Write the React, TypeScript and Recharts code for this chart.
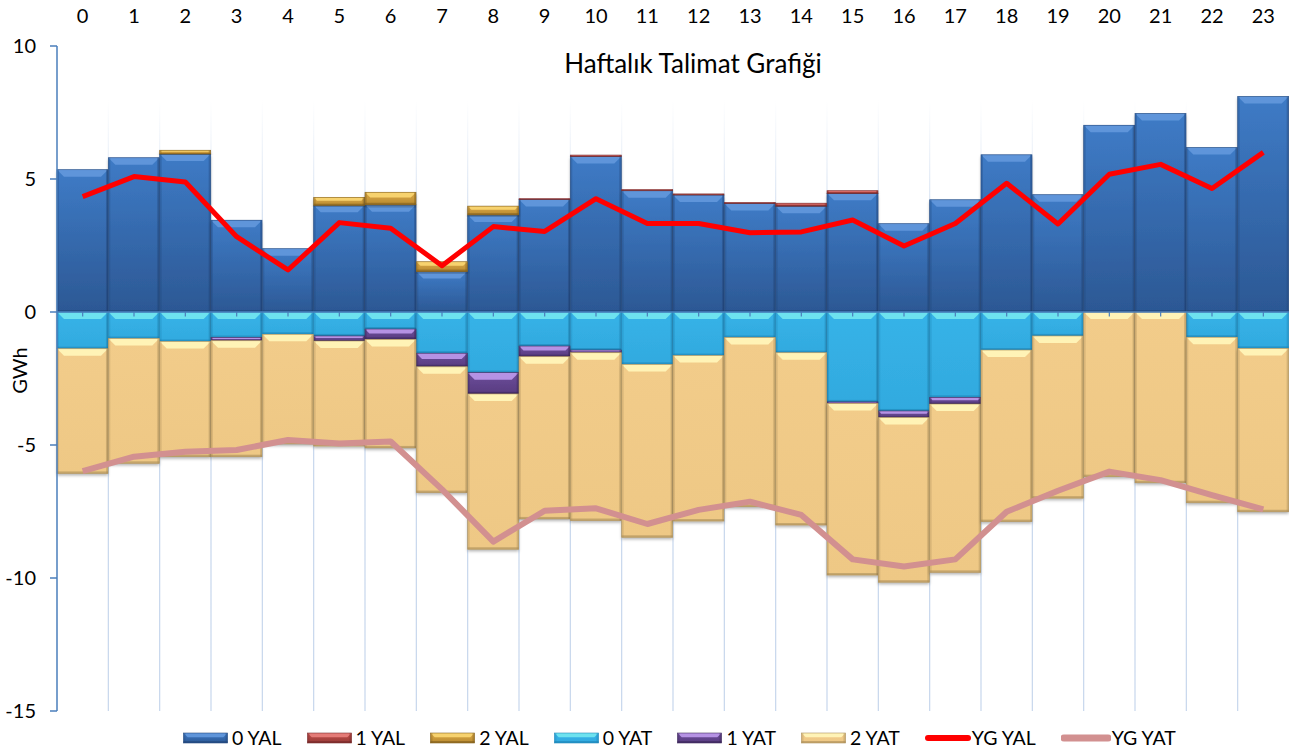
import React from 'react';
import { ComposedChart, Bar, Line, XAxis, YAxis, CartesianGrid, ReferenceLine } from 'recharts';

const hours = ['0', '1', '2', '3', '4', '5', '6', '7', '8', '9', '10', '11', '12', '13', '14', '15', '16', '17', '18', '19', '20', '21', '22', '23'];

const yal0 = [5.35, 5.8, 5.94, 3.45, 2.38, 4.01, 4.03, 1.52, 3.65, 4.23, 5.85, 4.56, 4.4, 4.08, 3.98, 4.46, 3.32, 4.22, 5.91, 4.41, 7.02, 7.46, 6.18, 8.1];
const yal1 = [0, 0, 0, 0, 0, 0, 0, 0, 0, 0.03, 0.05, 0.04, 0.04, 0.04, 0.11, 0.1, 0, 0, 0, 0, 0, 0, 0, 0];
const yal2 = [0, 0, 0.14, 0, 0, 0.3, 0.47, 0.37, 0.33, 0, 0, 0, 0, 0, 0, 0, 0, 0, 0, 0, 0, 0, 0, 0];
const yat0 = [-1.38, -1.0, -1.11, -0.96, -0.84, -0.9, -0.64, -1.55, -2.28, -1.28, -1.43, -1.97, -1.64, -0.96, -1.53, -3.38, -3.72, -3.21, -1.43, -0.9, 0, 0, -0.95, -1.37];
const yat1 = [0, 0, 0, -0.12, 0, -0.19, -0.39, -0.51, -0.8, -0.4, -0.1, 0, 0, 0, 0, -0.06, -0.25, -0.25, 0, 0, 0, 0, 0, 0];
const yat2 = [-4.69, -4.69, -4.33, -4.36, -4.12, -3.95, -4.08, -4.73, -5.84, -6.1, -6.31, -6.5, -6.22, -6.36, -6.48, -6.45, -6.19, -6.33, -6.45, -6.1, -6.19, -6.42, -6.22, -6.14];
const ygYal = [4.34, 5.09, 4.89, 2.83, 1.58, 3.36, 3.15, 1.74, 3.21, 3.03, 4.26, 3.33, 3.33, 2.98, 3.01, 3.46, 2.48, 3.33, 4.84, 3.31, 5.18, 5.55, 4.64, 6.0];
const ygYat = [-5.98, -5.44, -5.25, -5.19, -4.81, -4.94, -4.87, -6.67, -8.63, -7.47, -7.38, -7.97, -7.44, -7.13, -7.63, -9.3, -9.57, -9.3, -7.51, -6.72, -6.0, -6.32, -6.88, -7.42];
const yTicks = [-15, -10, -5, 0, 5, 10];

const data = hours.map((hour, i) => ({
  hour,
  yal0: yal0[i],
  yal1: yal1[i],
  yal2: yal2[i],
  yat0: yat0[i],
  yat1: yat1[i],
  yat2: yat2[i],
  ygYal: ygYal[i],
  ygYat: ygYat[i],
}));

type Tone = { id: string; top: string; bottom: string; light: string; edge: string };

const tones: Record<string, Tone> = {
  yal0: { id: 'yal0', top: '#3e7bc6', bottom: '#2c5894', light: '#5f95da', edge: '#22467a' },
  yal1: { id: 'yal1', top: '#c4504c', bottom: '#963a37', light: '#e47b77', edge: '#74282a' },
  yal2: { id: 'yal2', top: '#dcaa48', bottom: '#b98a30', light: '#f7d26e', edge: '#7f5d1c' },
  yat0: { id: 'yat0', top: '#36b3e8', bottom: '#32aadf', light: '#6de2ef', edge: '#1d84b6' },
  yat1: { id: 'yat1', top: '#6d4d9b', bottom: '#583c80', light: '#b592e4', edge: '#3b2758' },
  yat2: { id: 'yat2', top: '#f2cc8a', bottom: '#eec885', light: '#fff3b6', edge: '#a88c58' },
};

const series = [
  { key: 'yal0', name: '0 YAL' },
  { key: 'yal1', name: '1 YAL' },
  { key: 'yal2', name: '2 YAL' },
  { key: 'yat0', name: '0 YAT' },
  { key: 'yat1', name: '1 YAT' },
  { key: 'yat2', name: '2 YAT' },
];

const lines = [
  { key: 'ygYal', name: 'YG YAL', color: '#ff0000', width: 5, swatch: 46 },
  { key: 'ygYat', name: 'YG YAT', color: '#d29090', width: 6, swatch: 50 },
];

function BevelBar(props: any) {
  const { x, y, width, height, tone, flat } = props;
  if (!width || !height) return null;
  const top = height < 0 ? y + height : y;
  const h = Math.abs(height);
  if (h < 0.6) return null;
  const b = Math.min(7, h * 0.42, width / 4);
  const e = Math.min(2, h * 0.2);
  const side = Math.min(2, width / 10);
  return (
    <g>
      <rect x={x} y={top} width={width} height={h} fill={`url(#body-${tone.id})`} filter={flat ? undefined : 'url(#barShadow)'} />
      <polygon
        points={`${x},${top} ${x + width},${top} ${x + width - b},${top + b} ${x + b},${top + b}`}
        fill={tone.light}
      />
      <rect x={x} y={top} width={side} height={h} fill={tone.edge} opacity={0.3} />
      <rect x={x + width - side} y={top} width={side} height={h} fill={tone.edge} opacity={0.4} />
      <rect x={x} y={top + h - e} width={width} height={e} fill={tone.edge} opacity={0.6} />
      <rect x={x} y={top} width={width} height={h} fill="none" stroke={tone.edge} strokeWidth={0.7} opacity={0.8} />
    </g>
  );
}

function gridPoints({ offset }: any) {
  const step = offset.width / hours.length;
  return hours.slice(1).map((_, i) => offset.left + step * (i + 1));
}

function AxisTitle(props: any) {
  const vb = props.viewBox || { x: 0, y: 46, width: 57, height: 665 };
  const cx = vb.x + 19;
  const cy = vb.y + vb.height / 2 - 8;
  return (
    <text x={cx} y={cy} transform={`rotate(-90 ${cx} ${cy})`} textAnchor="middle" dominantBaseline="central" fontSize={20} fill="#000">
      GWh
    </text>
  );
}

function Legend() {
  return (
    <div
      style={{
        position: 'absolute',
        left: 183,
        top: 726,
        display: 'flex',
        alignItems: 'center',
        gap: 25,
        fontSize: 19.5,
        color: '#000',
        whiteSpace: 'nowrap',
      }}
    >
      {series.map((s) => (
        <div key={s.key} style={{ display: 'flex', alignItems: 'center', gap: 4 }}>
          <svg width={45} height={12}>
            <BevelBar x={0.5} y={1} width={44} height={10} tone={tones[s.key]} flat />
          </svg>
          <span>{s.name}</span>
        </div>
      ))}
      {lines.map((l) => (
        <div key={l.key} style={{ display: 'flex', alignItems: 'center', gap: 1 }}>
          <svg width={l.swatch} height={12}>
            <line x1={3} y1={6} x2={l.swatch - 3} y2={6} stroke={l.color} strokeWidth={l.width + 1} strokeLinecap="round" />
          </svg>
          <span>{l.name}</span>
        </div>
      ))}
    </div>
  );
}

export default function App() {
  return (
    <div style={{ position: 'absolute', left: 0, top: 0, width: 1289, height: 753, background: '#fff', fontFamily: 'Lato, sans-serif' }}>
      <ComposedChart
        width={1289}
        height={753}
        data={data}
        stackOffset="sign"
        barCategoryGap={0}
        barGap={0}
        margin={{ top: 0, right: 0, bottom: 42, left: 0 }}
      >
        <defs>
          {Object.values(tones).map((t) => (
            <linearGradient key={t.id} id={`body-${t.id}`} x1="0" y1="0" x2="0" y2="1">
              <stop offset="0%" stopColor={t.top} />
              <stop offset="100%" stopColor={t.bottom} />
            </linearGradient>
          ))}
          <linearGradient id="gridFade" gradientUnits="userSpaceOnUse" x1="0" y1="100" x2="0" y2="260">
            <stop offset="0%" stopColor="#c6d6ec" stopOpacity={0} />
            <stop offset="100%" stopColor="#c6d6ec" stopOpacity={1} />
          </linearGradient>
          <filter id="barShadow" x="-10%" y="-10%" width="120%" height="130%">
            <feDropShadow dx="0" dy="2" stdDeviation="1.5" floodColor="#000" floodOpacity="0.3" />
          </filter>
        </defs>
        <CartesianGrid horizontal={false} stroke="url(#gridFade)" strokeWidth={1.2} verticalCoordinatesGenerator={gridPoints} />
        <XAxis
          dataKey="hour"
          orientation="top"
          height={46}
          axisLine={false}
          tickLine={false}
          interval={0}
          tickMargin={17}
          tick={{ fontSize: 20, fill: '#000' }}
        />
        <YAxis
          width={57}
          domain={[-15, 10]}
          ticks={yTicks}
          allowDataOverflow
          axisLine={{ stroke: '#4a7ebb', strokeWidth: 1.5 }}
          tickLine={{ stroke: '#4a7ebb', strokeWidth: 1.5 }}
          tickSize={7}
          tickMargin={14}
          tick={{ fontSize: 20, fill: '#000' }}
          label={<AxisTitle />}
        />
        {series.map((s) => (
          <Bar
            key={s.key}
            dataKey={s.key}
            name={s.name}
            stackId="a"
            isAnimationActive={false}
            shape={(p: any) => <BevelBar {...p} tone={tones[s.key]} />}
          />
        ))}
        <ReferenceLine y={0} stroke="#4a7ebb" strokeWidth={1.5} />
        {hours.map((h) => (
          <ReferenceLine
            key={`t${h}`}
            segment={[
              { x: h, y: 0 },
              { x: h, y: -0.17 },
            ]}
            stroke="#4a7ebb"
            strokeWidth={1.2}
            ifOverflow="visible"
          />
        ))}
        {lines.map((l) => (
          <Line
            key={l.key}
            type="linear"
            dataKey={l.key}
            name={l.name}
            stroke={l.color}
            strokeWidth={l.width}
            strokeLinejoin="round"
            dot={false}
            activeDot={false}
            isAnimationActive={false}
          />
        ))}
      </ComposedChart>
      <div style={{ position: 'absolute', left: 443, top: 47, width: 500, textAlign: 'center', fontSize: 26, color: '#000' }}>
        Haftalık Talimat Grafiği
      </div>
      <Legend />
    </div>
  );
}
